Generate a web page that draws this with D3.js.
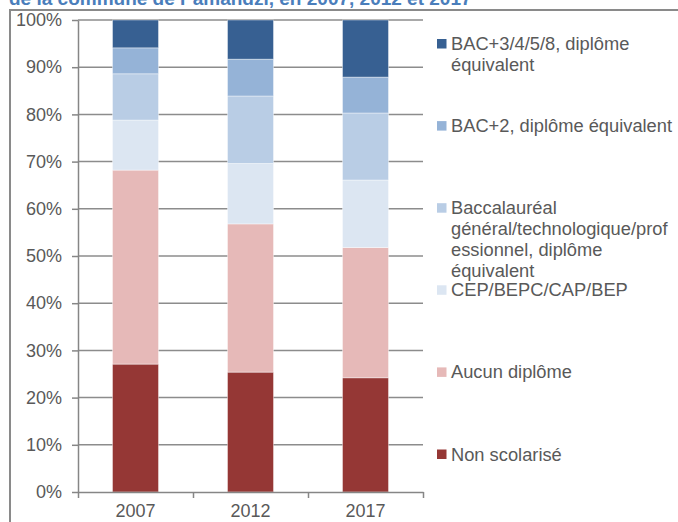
<!DOCTYPE html>
<html>
<head>
<meta charset="utf-8">
<script src="https://cdn.jsdelivr.net/npm/d3@7"></script>
<style>
  body { margin: 0; background: #fff; }
  svg { display: block; font-family: "Liberation Sans", Arial, sans-serif; }
  .axis text { fill: #595959; font-size: 18px; }
  .axis path, .axis line { stroke: #868686; stroke-width: 1.5; }
  .grid line { stroke: #8c8c8c; stroke-width: 1.5; }
  .legend text { fill: #595959; font-size: 18.3px; }
</style>
</head>
<body>
<div id="chart"></div>
<script>
// years on the x axis
const years = ['2007', '2012', '2017'];

// shares (%), bottom segment first
const nonScolarise = [27.1, 25.4, 24.2];
const aucunDiplome = [41.1, 31.4, 27.6];
const cepBepc = [10.6, 12.8, 14.3];
const baccalaureat = [9.8, 14.3, 14.2];
const bac2 = [5.5, 7.8, 7.6];
const bac3plus = [5.9, 8.3, 12.1];

const seriesKeys = ['nonScol', 'aucun', 'cep', 'bac', 'bac2', 'bac3'];
const seriesValues = [nonScolarise, aucunDiplome, cepBepc, baccalaureat, bac2, bac3plus];
const seriesColors = ['#953735', '#e6b9b8', '#dce6f2', '#b9cde5', '#95b3d7', '#376092'];
const seriesLabels = [
  ['Non scolarisé'],
  ['Aucun diplôme'],
  ['CEP/BEPC/CAP/BEP'],
  ['Baccalauréal', 'général/technologique/prof', 'essionnel, diplôme', 'équivalent'],
  ['BAC+2, diplôme équivalent'],
  ['BAC+3/4/5/8, diplôme', 'équivalent']
];

const yTicks = [0, 10, 20, 30, 40, 50, 60, 70, 80, 90, 100];

const W = 678, H = 522;
const margin = { top: 20, left: 78, right: 255, bottom: 30 };
const plotW = W - margin.left - margin.right; // 345
const plotH = H - margin.top - margin.bottom; // 472

const table = years.map((yr, i) => {
  const row = { year: yr };
  seriesKeys.forEach((k, j) => { row[k] = seriesValues[j][i]; });
  return row;
});

const stacked = d3.stack().keys(seriesKeys)(table);

const svg = d3.select('#chart').append('svg')
  .attr('width', W)
  .attr('height', H);

// chart frame (only top and left edges are visible)
svg.append('path')
  .attr('d', `M10,${H + 5}V10H${W + 5}`)
  .attr('fill', 'none')
  .attr('stroke', '#8a8a8a')
  .attr('stroke-width', 2);

// title, cut off at the top edge like in the source
svg.append('text')
  .attr('x', 9)
  .attr('y', 5)
  .attr('fill', '#4a7ebb')
  .attr('font-weight', 'bold')
  .attr('font-size', '19px')
  .text('de la commune de Pamandzi, en 2007, 2012 et 2017');

const chart = svg.append('g')
  .attr('transform', `translate(${margin.left},${margin.top})`);

const x = d3.scaleBand()
  .domain(years)
  .range([0, plotW])
  .paddingInner(0.6)
  .paddingOuter(0.3);

const xEdges = d3.scaleLinear().domain([0, years.length]).range([0, plotW]);

const y = d3.scaleLinear()
  .domain([0, 100])
  .range([plotH, 0]);

// gridlines
chart.append('g')
  .attr('class', 'grid')
  .selectAll('line')
  .data(yTicks.filter(d => d > 0))
  .enter().append('line')
  .attr('x1', 0)
  .attr('x2', plotW)
  .attr('y1', d => y(d))
  .attr('y2', d => y(d));

// bars
const layers = chart.selectAll('.layer')
  .data(stacked)
  .enter().append('g')
  .attr('class', 'layer')
  .attr('fill', (d, i) => seriesColors[i]);

layers.selectAll('rect')
  .data(d => d)
  .enter().append('rect')
  .attr('x', d => x(d.data.year))
  .attr('y', d => y(d[1]))
  .attr('width', x.bandwidth())
  .attr('height', d => y(d[0]) - y(d[1]))
  .attr('stroke', 'rgba(255,255,255,0.5)')
  .attr('stroke-width', 0.8);

// y axis
chart.append('g')
  .attr('class', 'y axis')
  .call(d3.axisLeft(y)
    .tickValues(yTicks)
    .tickFormat(d => d + '%')
    .tickSize(6)
    .tickSizeOuter(0)
    .tickPadding(10));

// x axis: tick marks between categories, labels under each bar
chart.append('g')
  .attr('class', 'x axis')
  .attr('transform', `translate(0,${plotH})`)
  .call(d3.axisBottom(xEdges)
    .tickValues(d3.range(years.length + 1))
    .tickFormat('')
    .tickSize(6)
    .tickSizeOuter(0));

chart.append('g')
  .attr('class', 'x axis labels')
  .attr('transform', `translate(0,${plotH})`)
  .call(d3.axisBottom(x).tickSize(0).tickPadding(12))
  .call(g => g.select('.domain').remove());

// legend, top entry = last series
const legend = svg.append('g').attr('class', 'legend');
const legendTop = 43.5, legendStep = 82.1, lineH = 21;

const items = legend.selectAll('.item')
  .data(seriesKeys.map((k, i) => i).reverse())
  .enter().append('g')
  .attr('class', 'item')
  .attr('transform', (d, i) => `translate(437,${legendTop + i * legendStep})`);

items.append('rect')
  .attr('x', 0)
  .attr('y', -4.5)
  .attr('width', 9.5)
  .attr('height', 9.5)
  .attr('fill', d => seriesColors[d]);

items.append('text')
  .attr('x', 14)
  .attr('y', 0)
  .selectAll('tspan')
  .data(d => seriesLabels[d])
  .enter().append('tspan')
  .attr('x', 14)
  .attr('y', (d, i) => i * lineH)
  .attr('dy', '0.36em')
  .text(d => d);
</script>
</body>
</html>
